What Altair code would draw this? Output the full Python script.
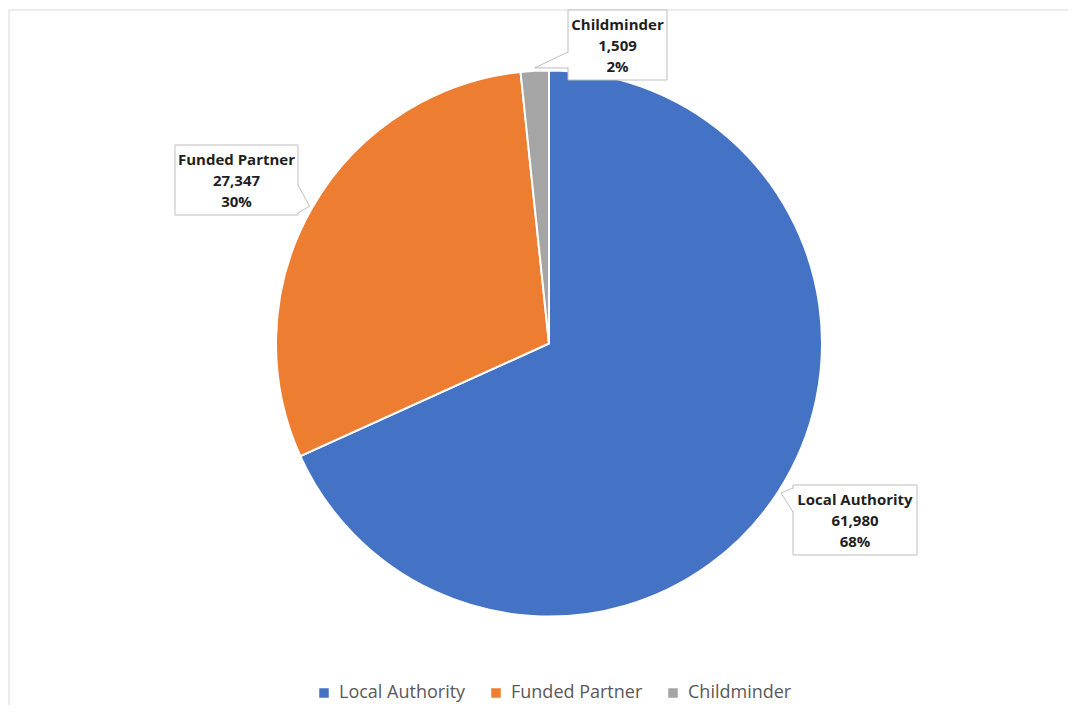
import math
import altair as alt
import pandas as pd

# ---- data ----
categories = ["Local Authority", "Funded Partner", "Childminder"]
values = [61980, 27347, 1509]
colors = ["#4472C4", "#ED7D31", "#A5A5A5"]

# ---- layout (pixels) ----
W, H = 1059, 695
OX, OY = 9, 10                 # page offset of the plot area
CX, CY = 549 - OX, 343.5 - OY  # pie centre
R = 273
TIP_R = 276
box_offsets = [(306, 176.5), (-312.5, -163.5), (68.5, -298.5)]  # box centre offset from pie centre
box_sizes = [(124, 70), (123, 70), (99, 70)]
wedge_bases = [("left", 3, 27), ("right", 40, 68), ("left", 42, 58)]
line_offsets = [15, 36, 57]

total = sum(values)
pcts = [round(v / total * 100) for v in values]
mids = []
cum = 0
for v in values:
    mids.append((cum + v / 2) / total * 2 * math.pi)
    cum += v

arc_df = pd.DataFrame({"category": categories, "value": values, "order": list(range(len(values)))})

box_rows, wedge_rows, cover_rows, text_rows = [], [], [], []
for i, cat in enumerate(categories):
    bx = CX + box_offsets[i][0]
    by = CY + box_offsets[i][1]
    bw, bh = box_sizes[i]
    x1, x2 = bx - bw / 2, bx + bw / 2
    y1, y2 = by - bh / 2, by + bh / 2
    box_rows.append({"category": cat, "x1": x1, "x2": x2, "y1": y1, "y2": y2})
    tx = CX + TIP_R * math.sin(mids[i])
    ty = CY - TIP_R * math.cos(mids[i])
    side, b1, b2 = wedge_bases[i]
    ex = x1 if side == "left" else x2
    pts = [(ex, y1 + b1), (tx, ty), (ex, y1 + b2)]
    for j, (px, py) in enumerate(pts):
        wedge_rows.append({"category": cat, "i": j, "x": px, "y": py})
    cover_rows.append({"category": cat, "x": ex, "x2": ex, "y": y1 + b1 + 1, "y2": y1 + b2 - 1})
    lines = [cat, f"{values[i]:,}", f"{pcts[i]}%"]
    for k, t in enumerate(lines):
        text_rows.append({"x": bx, "y": y1 + line_offsets[k], "text": t})

box_df = pd.DataFrame(box_rows)
wedge_df = pd.DataFrame(wedge_rows)
cover_df = pd.DataFrame(cover_rows)
text_df = pd.DataFrame(text_rows)

xs = alt.Scale(domain=[0, W], range=[0, W])
ys = alt.Scale(domain=[0, H], range=[0, H])

dummy = pd.DataFrame({"a": [0]})
border_top = alt.Chart(dummy).mark_rule(color="#d9d9d9", strokeWidth=1).encode(
    x=alt.value(0), x2=alt.value(W), y=alt.value(0))
border_left = alt.Chart(dummy).mark_rule(color="#d9d9d9", strokeWidth=1).encode(
    x=alt.value(0), y=alt.value(0), y2=alt.value(H))

pie = alt.Chart(arc_df).mark_arc(outerRadius=R, stroke="white", strokeWidth=2).encode(
    theta=alt.Theta("value:Q", stack=True),
    order=alt.Order("order:Q"),
    color=alt.Color(
        "category:N",
        scale=alt.Scale(domain=categories, range=colors),
        sort=categories,
        legend=alt.Legend(
            orient="none", legendX=306, legendY=674, direction="horizontal",
            title=None, symbolType="square", symbolSize=90, symbolStrokeWidth=0,
            labelFont="Open Sans", labelFontSize=18, labelColor="#595959",
            labelOffset=6, columnPadding=21, padding=0,
        ),
    ),
    x=alt.value(CX),
    y=alt.value(CY),
)

boxes = alt.Chart(box_df).mark_rect(fill="white", stroke="#bfbfbf", strokeWidth=1).encode(
    x=alt.X("x1:Q", scale=xs, axis=None), x2="x2:Q",
    y=alt.Y("y1:Q", scale=ys, axis=None), y2="y2:Q",
)

covers = alt.Chart(cover_df).mark_rule(color="white", strokeWidth=2).encode(
    x=alt.X("x:Q", scale=xs, axis=None), x2="x2:Q",
    y=alt.Y("y:Q", scale=ys, axis=None), y2="y2:Q",
)

wedges = alt.Chart(wedge_df).mark_line(color="#bfbfbf", strokeWidth=1).encode(
    x=alt.X("x:Q", scale=xs, axis=None),
    y=alt.Y("y:Q", scale=ys, axis=None),
    detail="category:N",
    order="i:Q",
)

texts = alt.Chart(text_df).mark_text(
    font="Open Sans", fontWeight="bold", fontSize=15, color="#1f1f1f",
    align="center", baseline="middle",
).encode(
    x=alt.X("x:Q", scale=xs, axis=None),
    y=alt.Y("y:Q", scale=ys, axis=None),
    text="text:N",
)

chart = alt.layer(border_top, border_left, pie, boxes, covers, wedges, texts).properties(
    width=W, height=H,
    autosize=alt.AutoSizeParams(type="none"),
    padding={"left": 1, "top": 2, "right": 0, "bottom": 0},
    background="white",
).configure_view(stroke=None)

chart.save("out.html", embed_options={"renderer": "svg", "actions": False})
